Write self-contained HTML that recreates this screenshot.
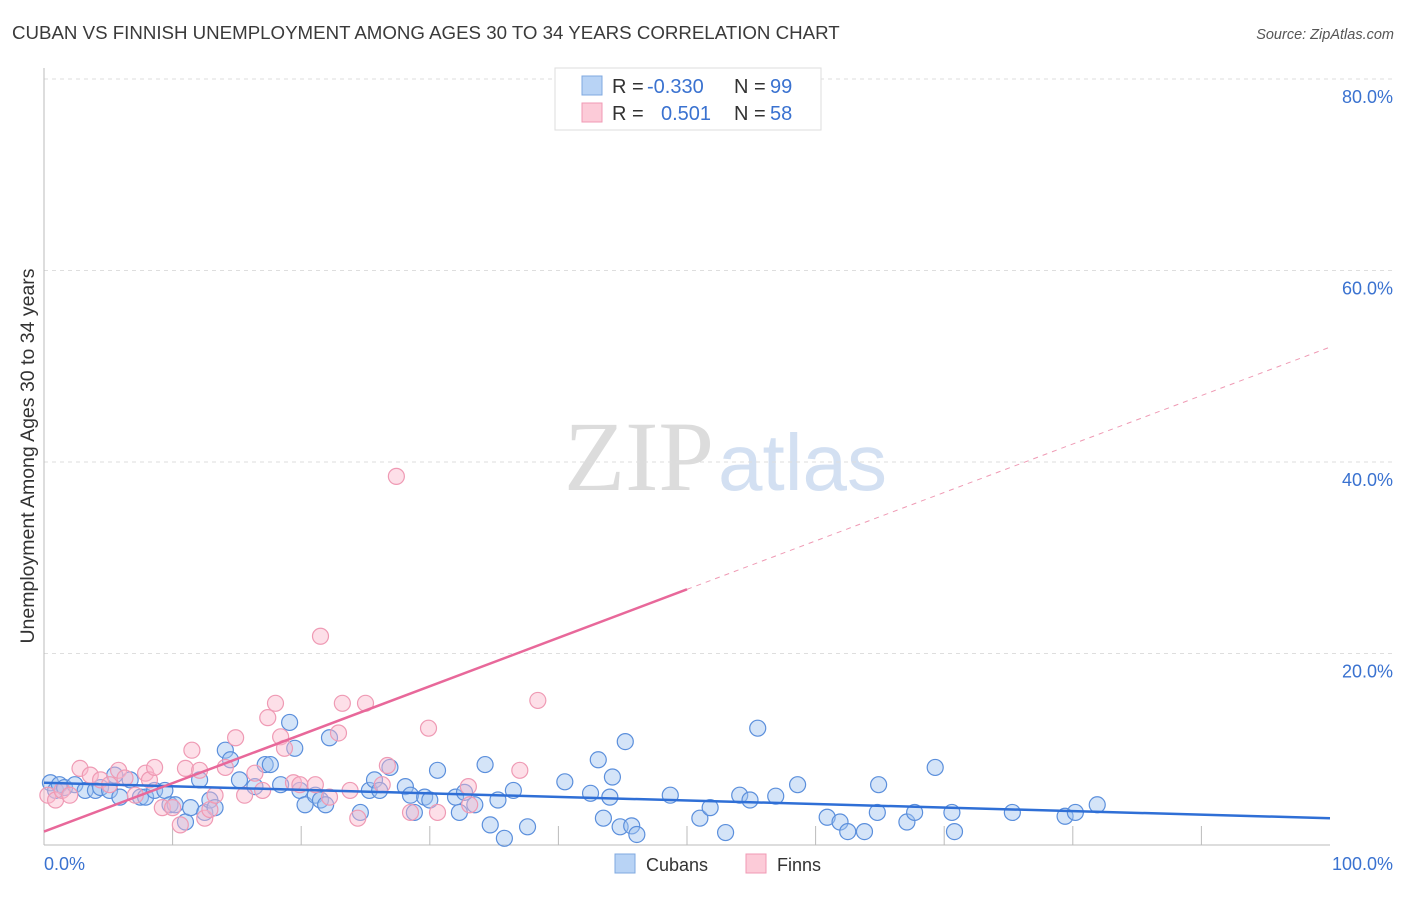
<!DOCTYPE html>
<html><head><meta charset="utf-8"><style>
body{margin:0;background:#fff;font-family:"Liberation Sans",sans-serif;}
svg text{font-family:"Liberation Sans",sans-serif;}
</style></head><body>
<svg id="chart" width="1406" height="892" xmlns="http://www.w3.org/2000/svg">
<text x="12" y="39" font-size="18.7" fill="#3a3a3a">CUBAN VS FINNISH UNEMPLOYMENT AMONG AGES 30 TO 34 YEARS CORRELATION CHART</text>
<text x="1394" y="39" font-size="14.5" fill="#555" font-style="italic" text-anchor="end">Source: ZipAtlas.com</text>
<g>
<text x="714" y="490" font-size="100" fill="#dcdcdc" text-anchor="end" style="font-family:'Liberation Serif',serif">ZIP</text>
<text x="718" y="490" font-size="80" fill="#d3e0f2">atlas</text>
</g>
<g id="grid"></g>
<g id="axes"></g>
<g id="dots"></g>
<g id="lines"></g>
<text transform="translate(34,456) rotate(-90)" font-size="19.5" fill="#333" text-anchor="middle">Unemployment Among Ages 30 to 34 years</text>
<g>
<rect x="555" y="68" width="266" height="62" fill="#fff" stroke="#ddd"/>
<rect x="582" y="76" width="20" height="19" fill="#b8d3f5" stroke="#7fa8e0"/>
<rect x="582" y="103" width="20" height="19" fill="#fccbd8" stroke="#f09ab4"/>
<text x="612" y="93" font-size="20" fill="#333">R =</text>
<text x="647" y="93" font-size="20" fill="#3a72d0">-0.330</text>
<text x="734" y="93" font-size="20" fill="#333">N =</text>
<text x="770" y="93" font-size="20" fill="#3a72d0">99</text>
<text x="612" y="120" font-size="20" fill="#333">R =</text>
<text x="661" y="120" font-size="20" fill="#3a72d0">0.501</text>
<text x="734" y="120" font-size="20" fill="#333">N =</text>
<text x="770" y="120" font-size="20" fill="#3a72d0">58</text>
</g>
<g>
<rect x="615" y="854" width="20" height="19" fill="#b8d3f5" stroke="#7fa8e0"/>
<text x="646" y="871" font-size="18" fill="#333">Cubans</text>
<rect x="746" y="854" width="20" height="19" fill="#fccbd8" stroke="#f09ab4"/>
<text x="777" y="871" font-size="18" fill="#333">Finns</text>
</g>
</svg>
<script>
const yTicks=[20,40,60,80];
const yTickLabels=["20.0%","40.0%","60.0%","80.0%"];
const xTickCount=10;
const cubanX=[0.5,0.9,1.2,1.6,2.4,3.2,4.0,4.4,5.1,5.5,5.9,6.7,7.5,7.9,8.6,9.4,9.8,10.2,11.0,11.4,12.1,12.5,12.9,13.3,14.1,14.5,15.2,16.4,17.2,17.6,18.4,19.1,19.5,19.9,20.3,21.1,21.5,21.9,22.2,24.6,25.3,25.7,26.1,26.9,28.1,28.5,28.8,29.6,30.0,30.6,32.0,32.3,32.7,33.5,34.3,34.7,35.3,36.5,35.8,37.6,40.5,42.5,43.1,43.5,44.0,44.2,44.8,45.2,45.7,46.1,48.7,51.0,51.8,53.0,54.1,54.9,55.5,56.9,58.6,60.9,61.9,62.5,63.8,64.8,64.9,67.1,67.7,69.3,70.6,70.8,75.3,79.4,80.2,81.9];
const cubanY=[6.5,5.7,6.3,6.0,6.3,5.7,5.7,6.0,5.7,7.3,5.0,6.8,5.0,5.0,5.7,5.7,4.2,4.2,2.4,3.9,6.8,3.4,4.7,3.9,9.9,8.9,6.8,6.1,8.4,8.4,6.3,12.8,10.1,5.7,4.2,5.2,4.7,4.2,11.2,3.4,5.7,6.8,5.7,8.1,6.1,5.2,3.4,5.0,4.7,7.8,5.0,3.4,5.5,4.2,8.4,2.1,4.7,5.7,0.7,1.9,6.6,5.4,8.9,2.8,5.0,7.1,1.9,10.8,2.0,1.1,5.2,2.8,3.9,1.3,5.2,4.7,12.2,5.1,6.3,2.9,2.4,1.4,1.4,3.4,6.3,2.4,3.4,8.1,3.4,1.4,3.4,3.0,3.4,4.2];
const finnX=[0.3,0.9,1.4,2.0,2.8,3.6,4.4,5.1,5.8,6.3,7.1,7.9,8.2,8.6,9.2,10.0,10.6,11.0,11.5,12.1,12.5,12.9,13.3,14.1,14.9,15.6,16.4,17.0,17.4,18.0,18.4,18.7,19.4,19.9,21.1,21.5,22.2,22.9,23.2,23.8,24.4,25.0,26.3,26.7,27.4,28.5,29.9,30.6,33.0,33.1,37.0,38.4,49.5];
const finnY=[5.2,4.7,5.7,5.2,8.0,7.3,6.8,6.3,7.8,7.0,5.2,7.5,6.8,8.1,3.9,3.9,2.1,8.0,9.9,7.8,2.8,3.7,5.2,8.1,11.2,5.2,7.5,5.7,13.3,14.8,11.3,10.1,6.5,6.3,6.3,21.8,5.0,11.7,14.8,5.7,2.8,14.8,6.3,8.3,38.5,3.4,12.2,3.4,6.1,4.2,7.8,15.1,79.9];
const cubanTrend=[6.5,2.8];
const finnTrend=[1.4,52.0];
const finnSolidEnd=50;

const NS="http://www.w3.org/2000/svg";
const X0=44,X1=1330,Y0=845,YTOP=79;
const sx=v=>X0+(X1-X0)*v/100;
const sy=v=>Y0-(Y0-YTOP)*v/80;
function mk(tag,attrs,parent){const e=document.createElementNS(NS,tag);for(const k in attrs)e.setAttribute(k,attrs[k]);parent.appendChild(e);return e;}
const grid=document.getElementById('grid'),axes=document.getElementById('axes'),dots=document.getElementById('dots'),lines=document.getElementById('lines');
yTicks.forEach((t,i)=>{
 const g=mk('line',{x1:X0,x2:1395,y1:sy(t),y2:sy(t),stroke:'#dedede','stroke-dasharray':'4,4'},grid);
 
 
 const l=mk('text',{x:1393,y:sy(t)+24,'font-size':18,fill:'#3a72d0','text-anchor':'end'},grid);
 l.textContent=yTickLabels[i];
 
 
});
const ya=mk('line',{x1:X0,x2:X0,y1:68,y2:Y0,stroke:'#bbb'},axes);


const xa=mk('line',{x1:X0,x2:X1,y1:Y0,y2:Y0,stroke:'#bbb'},axes);


for(let i=1;i<xTickCount;i++){
 const t=mk('line',{x1:sx(i*10),x2:sx(i*10),y1:Y0,y2:Y0-19,stroke:'#bbb'},axes);
 
 
}
const xl0=mk('text',{x:44,y:870,'font-size':18,fill:'#3a72d0'},axes);xl0.textContent='0.0%';


const xl1=mk('text',{x:1393,y:870,'font-size':18,fill:'#3a72d0','text-anchor':'end'},axes);xl1.textContent='100.0%';


cubanX.forEach((x,i)=>{
 const c=mk('circle',{cx:sx(x),cy:sy(cubanY[i]),r:8,fill:'rgba(160,195,240,0.45)',stroke:'#5b8fdc','stroke-width':1.2},dots);
 
 
});
finnX.forEach((x,i)=>{
 const c=mk('circle',{cx:sx(x),cy:sy(finnY[i]),r:8,fill:'rgba(250,185,205,0.45)',stroke:'#ef9ab4','stroke-width':1.2},dots);
 
 
});
const bl=mk('line',{x1:sx(0),y1:sy(cubanTrend[0]),x2:sx(100),y2:sy(cubanTrend[1]),stroke:'#2f6fd6','stroke-width':2.5},lines);


const fm=finnTrend[0]+(finnTrend[1]-finnTrend[0])*finnSolidEnd/100;
const pl=mk('line',{x1:sx(0),y1:sy(finnTrend[0]),x2:sx(finnSolidEnd),y2:sy(fm),stroke:'#e8689a','stroke-width':2.5},lines);


const pd=mk('line',{x1:sx(finnSolidEnd),y1:sy(fm),x2:sx(100),y2:sy(finnTrend[1]),stroke:'#ef9ab4','stroke-width':1,'stroke-dasharray':'5,5'},lines);


</script>
</body></html>
